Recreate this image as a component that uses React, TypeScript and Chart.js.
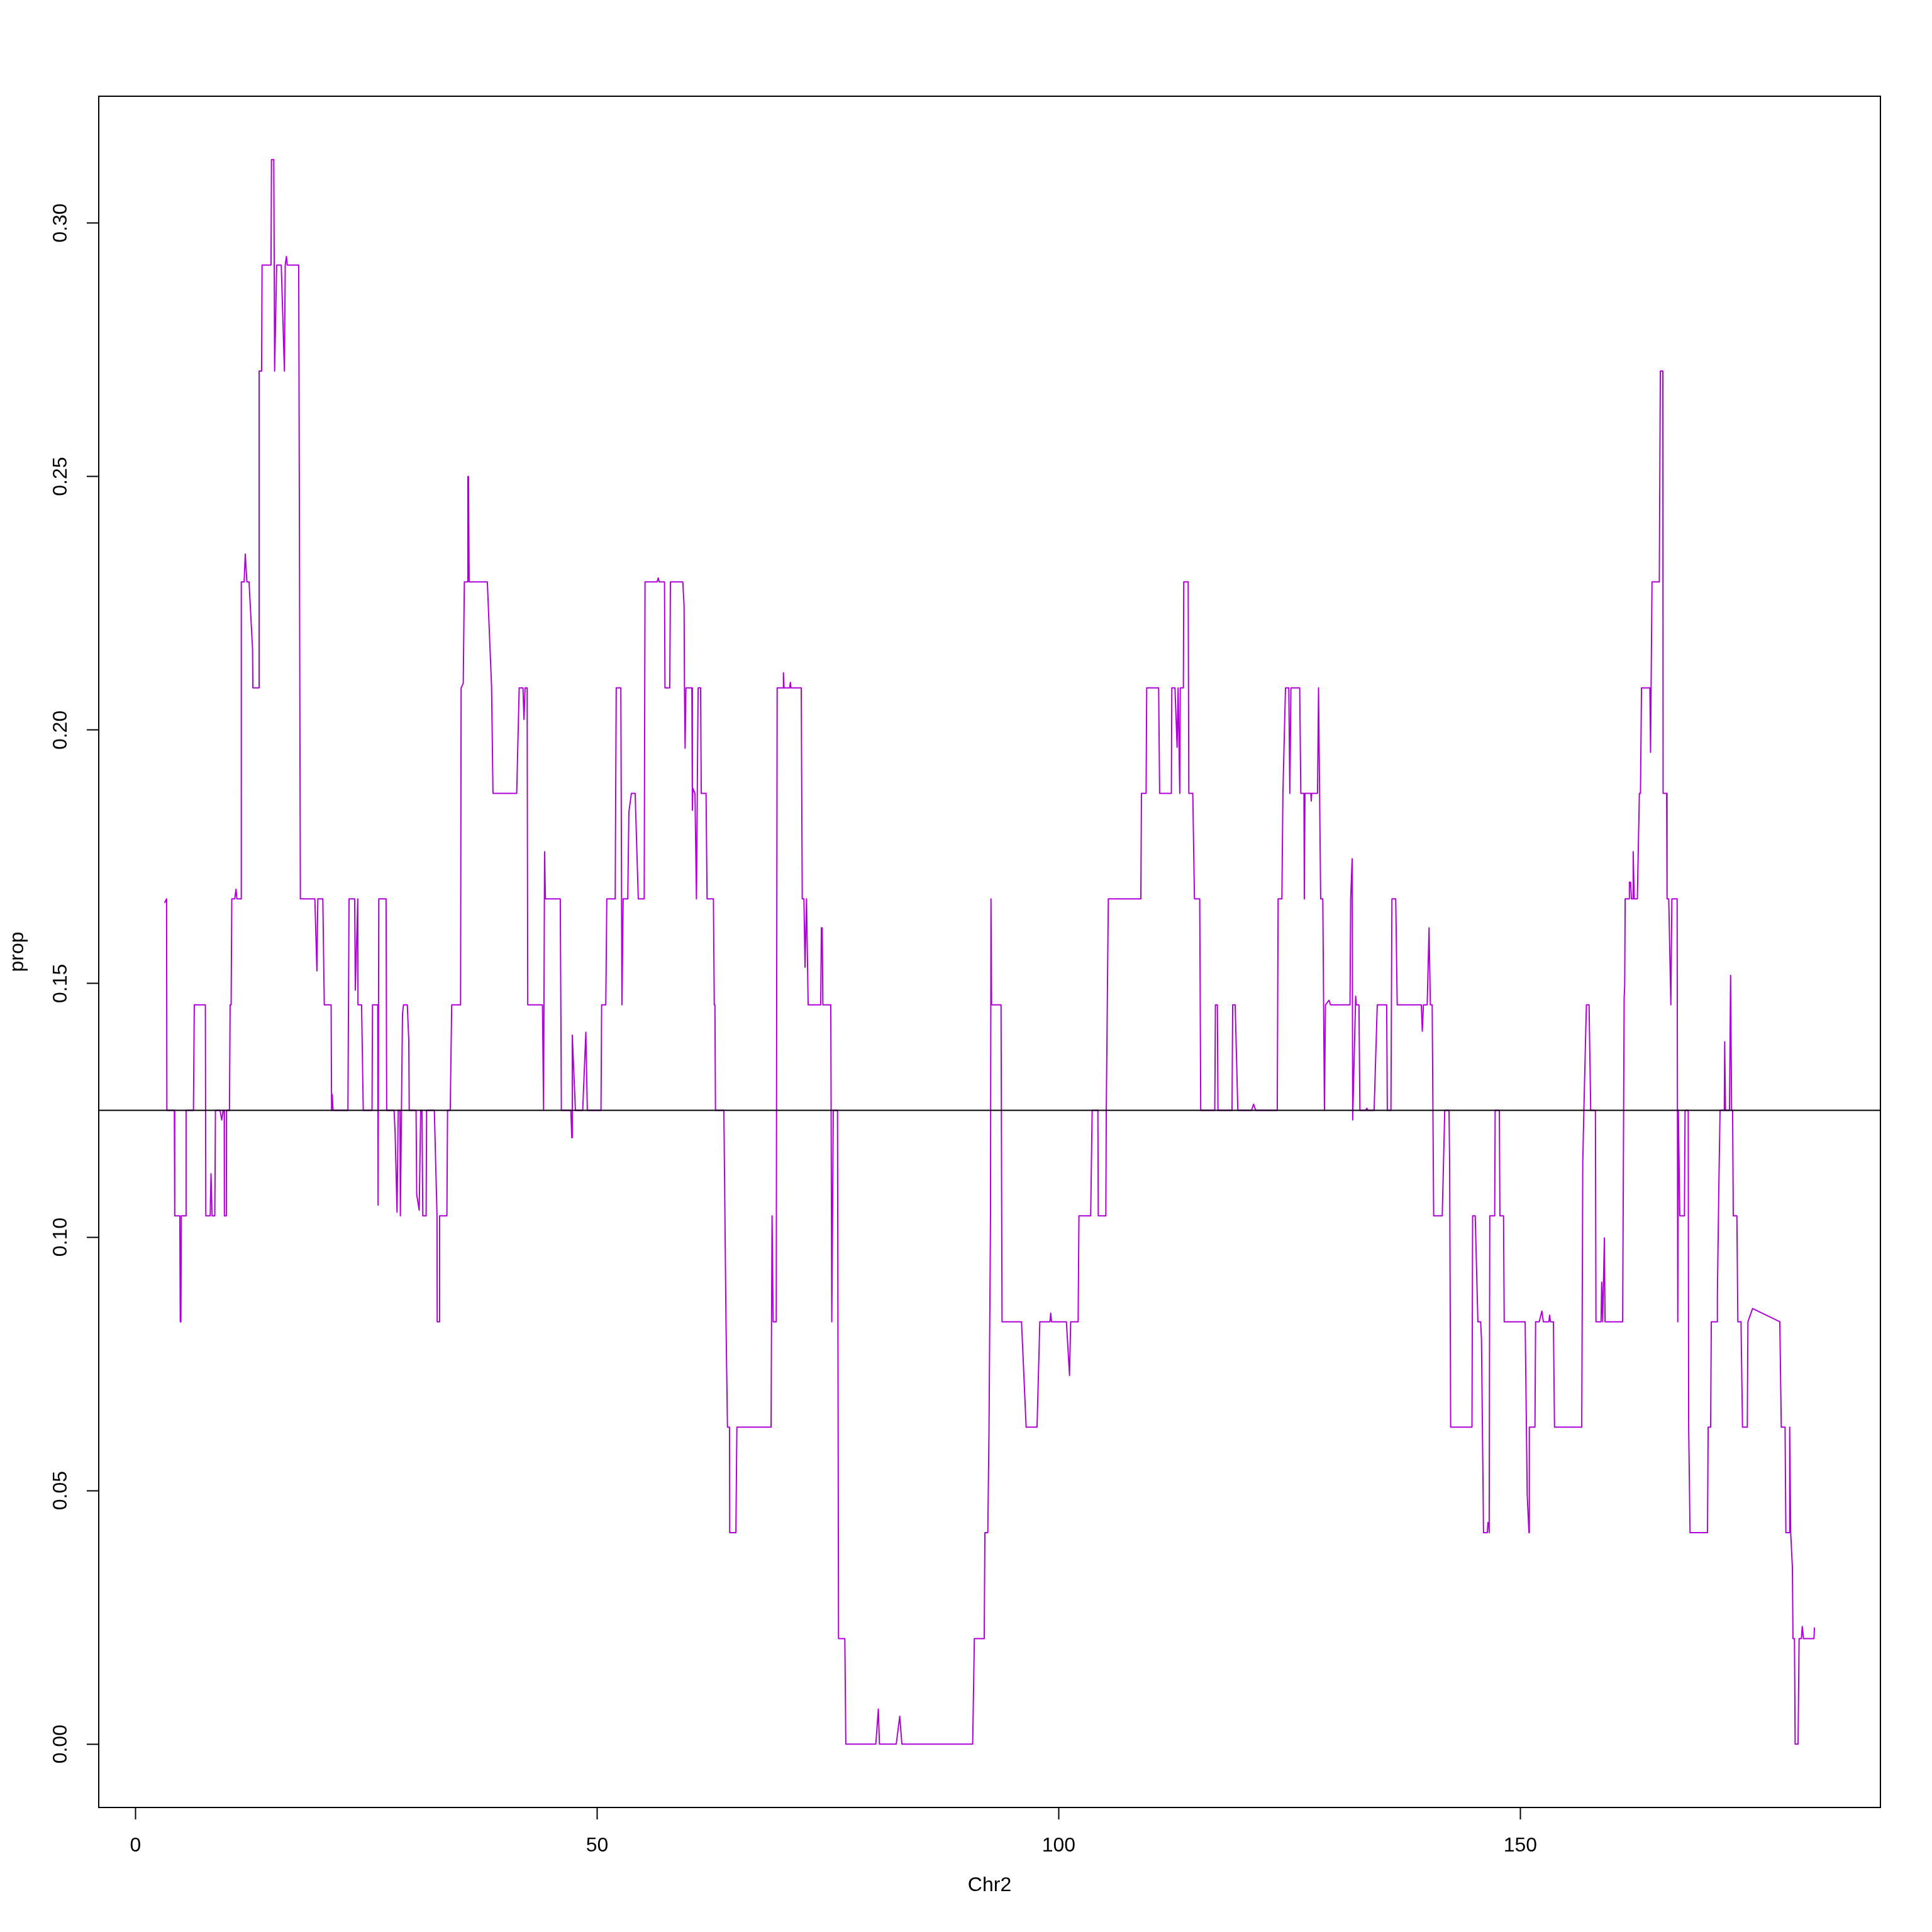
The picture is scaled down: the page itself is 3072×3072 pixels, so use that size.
import React, { useEffect, useRef } from "react";
import { Chart, registerables } from "chart.js";

Chart.register(...registerables);

// Position along chromosome 2 (x) and proportion (y)
const chrPos: number[] = [
  3.17, 3.37, 3.4, 4.21, 4.25, 4.8, 4.85, 4.92, 4.96, 5.44,
  5.48, 6.28, 6.37, 7.57, 7.62, 8.09, 8.18, 8.3, 8.59, 8.66,
  9.16, 9.34, 9.5, 9.61, 9.63, 9.84, 9.86, 10.18, 10.25, 10.36,
  10.43, 10.75, 10.89, 10.98, 11.43, 11.46, 11.77, 11.89, 12.07, 12.3,
  12.68, 12.71, 13.34, 13.39, 13.66, 13.71, 14.68, 14.73, 14.98, 15.07,
  15.29, 15.79, 16.13, 16.22, 16.35, 16.44, 17.68, 17.86, 19.43, 19.65,
  19.75, 20.29, 20.45, 21.19, 21.24, 21.31, 21.4, 23.01, 23.13, 23.74,
  23.81, 24.08, 24.1, 24.49, 24.67, 25.62, 25.67, 26.24, 26.28, 26.35,
  27.14, 27.21, 28.01, 28.12, 28.33, 28.46, 28.64, 28.69, 28.92, 29.03,
  29.44, 29.6, 29.65, 30.39, 30.46, 30.73, 30.89, 31.03, 31.12, 31.48,
  31.53, 32.37, 32.66, 32.68, 32.89, 32.94, 33.73, 33.8, 34.09, 34.25,
  35.21, 35.27, 35.5, 35.62, 35.96, 36.0, 36.07, 36.14, 38.11, 38.57,
  38.72, 41.29, 41.56, 41.97, 42.08, 42.2, 42.42, 42.49, 44.08, 44.2,
  44.31, 44.4, 46.01, 46.13, 47.15, 47.26, 47.31, 47.65, 48.44, 48.78,
  48.94, 50.42, 50.49, 50.94, 51.05, 51.96, 52.07, 52.57, 52.69, 52.82,
  53.32, 53.44, 53.71, 54.12, 54.46, 55.1, 55.19, 56.5, 56.62, 56.73,
  57.3, 57.35, 57.87, 57.94, 59.28, 59.42, 59.46, 59.53, 59.62, 60.26,
  60.32, 60.37, 60.6, 60.76, 60.94, 61.21, 61.28, 61.8, 61.91, 62.6,
  62.69, 62.76, 62.82, 63.73, 63.96, 64.12, 64.34, 64.36, 65.03, 65.14,
  68.84, 68.95, 69.07, 69.4, 69.5, 70.14, 70.18, 70.25, 70.86, 70.93,
  71.0, 72.11, 72.22, 72.4, 72.52, 72.68, 72.86, 74.22, 74.29, 74.38,
  74.45, 75.31, 75.42, 75.58, 76.04, 76.15, 76.83, 76.94, 80.19, 80.46,
  80.58, 82.4, 82.78, 83.01, 90.68, 90.86, 91.93, 92.0, 92.32, 92.45,
  92.61, 92.66, 92.73, 93.75, 93.86, 95.97, 96.47, 97.65, 97.95, 99.05,
  99.13, 99.22, 100.83, 101.17, 101.29, 102.1, 102.19, 103.46, 103.62, 104.24,
  104.28, 105.1, 105.15, 105.26, 105.37, 108.89, 108.96, 109.46, 109.53, 110.82,
  110.93, 112.2, 112.25, 112.59, 112.82, 112.93, 113.11, 113.16, 113.5, 113.54,
  114.02, 114.09, 114.52, 114.7, 115.27, 115.38, 116.9, 116.97, 117.18, 117.25,
  118.77, 118.84, 119.11, 119.4, 120.88, 121.1, 121.33, 123.67, 123.76, 124.17,
  124.28, 124.56, 124.92, 125.03, 125.15, 126.1, 126.22, 126.56, 126.6, 126.67,
  127.3, 127.35, 127.4, 128.03, 128.14, 128.37, 128.6, 128.78, 128.89, 129.28,
  129.43, 131.55, 131.62, 131.78, 131.84, 132.16, 132.23, 132.52, 132.62, 133.25,
  133.37, 133.48, 134.16, 134.5, 135.52, 135.59, 135.98, 136.09, 136.5, 136.66,
  139.27, 139.38, 139.5, 139.91, 140.11, 140.25, 140.45, 140.61, 141.54, 141.81,
  142.27, 142.34, 142.45, 144.76, 144.83, 145.11, 145.4, 145.7, 145.79, 146.01,
  146.42, 146.49, 146.58, 146.62, 146.69, 147.22, 147.27, 147.72, 147.79, 148.18,
  148.25, 150.52, 150.74, 150.93, 150.97, 151.58, 151.65, 152.04, 152.33, 152.49,
  153.09, 153.17, 153.26, 153.58, 153.7, 156.65, 156.76, 156.88, 157.15, 157.44,
  157.62, 158.13, 158.19, 158.74, 158.81, 158.92, 159.1, 159.17, 161.08, 161.24,
  161.3, 161.35, 161.76, 161.81, 161.94, 162.03, 162.17, 162.22, 162.33, 162.67,
  162.89, 163.01, 163.12, 164.03, 164.1, 164.26, 165.05, 165.16, 165.43, 165.46,
  165.84, 165.89, 166.07, 166.3, 166.41, 166.98, 167.05, 167.11, 167.27, 167.77,
  167.84, 168.18, 168.23, 168.38, 170.27, 170.34, 170.61, 170.68, 171.29, 171.34,
  171.5, 171.63, 172.09, 172.13, 172.22, 172.65, 172.77, 172.88, 172.99, 173.06,
  173.45, 173.56, 173.9, 174.06, 174.58, 174.65, 175.15, 178.1, 178.26, 178.67,
  178.76, 179.13, 179.17, 179.28, 179.46, 179.53, 179.69, 179.76, 180.08, 180.19,
  180.44, 180.53, 180.67, 181.8, 181.85,
];

const propValues: number[] = [
  0.166, 0.1667, 0.125, 0.125, 0.1042, 0.1042, 0.0833, 0.0833, 0.1042, 0.1042,
  0.125, 0.125, 0.1458, 0.1458, 0.1042, 0.1042, 0.1125, 0.1042, 0.1042, 0.125,
  0.125, 0.1231, 0.125, 0.125, 0.1042, 0.1042, 0.125, 0.125, 0.1458, 0.1458,
  0.1667, 0.1667, 0.1686, 0.1667, 0.1667, 0.2292, 0.2292, 0.2347, 0.2292, 0.2292,
  0.216, 0.2083, 0.2083, 0.2708, 0.2708, 0.2917, 0.2917, 0.3125, 0.3125, 0.2708,
  0.2917, 0.2917, 0.2708, 0.2917, 0.2934, 0.2917, 0.2917, 0.1667, 0.1667, 0.1525,
  0.1667, 0.1667, 0.1458, 0.1458, 0.125, 0.1281, 0.125, 0.125, 0.1667, 0.1667,
  0.1487, 0.1667, 0.1458, 0.1458, 0.125, 0.125, 0.1458, 0.1458, 0.1063, 0.1667,
  0.1667, 0.125, 0.125, 0.1206, 0.1049, 0.125, 0.125, 0.1042, 0.144, 0.1458,
  0.1458, 0.1389, 0.125, 0.125, 0.1084, 0.1053, 0.125, 0.125, 0.1042, 0.1042,
  0.125, 0.125, 0.1042, 0.0833, 0.0833, 0.1042, 0.1042, 0.125, 0.125, 0.1458,
  0.1458, 0.2083, 0.2092, 0.2292, 0.2292, 0.25, 0.25, 0.2292, 0.2292, 0.2085,
  0.1875, 0.1875, 0.2083, 0.2083, 0.2021, 0.2083, 0.2083, 0.1458, 0.1458, 0.125,
  0.176, 0.1667, 0.1667, 0.125, 0.125, 0.1196, 0.1398, 0.125, 0.125, 0.1404,
  0.125, 0.125, 0.1458, 0.1458, 0.1667, 0.1667, 0.2083, 0.2083, 0.1458, 0.1667,
  0.1667, 0.1838, 0.1875, 0.1875, 0.1667, 0.1667, 0.2292, 0.2292, 0.23, 0.2292,
  0.2292, 0.2083, 0.2083, 0.2292, 0.2292, 0.2245, 0.2083, 0.1964, 0.2083, 0.2083,
  0.1842, 0.1885, 0.1875, 0.1667, 0.2083, 0.2083, 0.1875, 0.1875, 0.1667, 0.1667,
  0.1458, 0.1458, 0.125, 0.125, 0.0833, 0.0625, 0.0625, 0.0417, 0.0417, 0.0625,
  0.0625, 0.1042, 0.0833, 0.0833, 0.2083, 0.2083, 0.2113, 0.2083, 0.2083, 0.2094,
  0.2083, 0.2083, 0.1667, 0.1667, 0.1532, 0.1667, 0.1458, 0.1458, 0.161, 0.161,
  0.1458, 0.1458, 0.0833, 0.125, 0.125, 0.0208, 0.0208, 0.0, 0.0, 0.0069,
  0.0, 0.0, 0.0055, 0.0, 0.0, 0.0208, 0.0208, 0.0417, 0.0417, 0.0625,
  0.1042, 0.1667, 0.1458, 0.1458, 0.0833, 0.0833, 0.0625, 0.0625, 0.0833, 0.0833,
  0.085, 0.0833, 0.0833, 0.0727, 0.0833, 0.0833, 0.1042, 0.1042, 0.125, 0.125,
  0.1042, 0.1042, 0.125, 0.1458, 0.1667, 0.1667, 0.1875, 0.1875, 0.2083, 0.2083,
  0.1875, 0.1875, 0.2083, 0.2083, 0.1966, 0.2083, 0.1875, 0.2083, 0.2083, 0.2292,
  0.2292, 0.1875, 0.1875, 0.1667, 0.1667, 0.125, 0.125, 0.1458, 0.1458, 0.125,
  0.125, 0.1458, 0.1458, 0.125, 0.125, 0.1262, 0.125, 0.125, 0.1667, 0.1667,
  0.1875, 0.2083, 0.2083, 0.1875, 0.2083, 0.2083, 0.1875, 0.1875, 0.1667, 0.1875,
  0.1875, 0.186, 0.1875, 0.1875, 0.2083, 0.1667, 0.1667, 0.125, 0.1458, 0.1467,
  0.1458, 0.1458, 0.1667, 0.1746, 0.1231, 0.1475, 0.1458, 0.1458, 0.125, 0.125,
  0.1254, 0.125, 0.125, 0.1458, 0.1458, 0.125, 0.125, 0.1667, 0.1667, 0.1458,
  0.1458, 0.1406, 0.1458, 0.1458, 0.161, 0.1458, 0.1458, 0.1042, 0.1042, 0.125,
  0.125, 0.1149, 0.0625, 0.0625, 0.1042, 0.1042, 0.0833, 0.0833, 0.0798, 0.0417,
  0.0417, 0.0437, 0.0437, 0.0417, 0.1042, 0.1042, 0.125, 0.125, 0.1042, 0.1042,
  0.0833, 0.0833, 0.0493, 0.0417, 0.0625, 0.0625, 0.0833, 0.0833, 0.0854, 0.0833,
  0.0833, 0.0846, 0.0833, 0.0833, 0.0625, 0.0625, 0.1149, 0.125, 0.1458, 0.1458,
  0.125, 0.125, 0.0833, 0.0833, 0.0911, 0.0833, 0.0998, 0.0833, 0.0833, 0.1471,
  0.1495, 0.1667, 0.1667, 0.17, 0.17, 0.1667, 0.1667, 0.176, 0.1667, 0.1667,
  0.1875, 0.1875, 0.2083, 0.2083, 0.1956, 0.2292, 0.2292, 0.2708, 0.2708, 0.1875,
  0.1875, 0.1667, 0.1667, 0.1458, 0.1667, 0.1667, 0.0833, 0.125, 0.1042, 0.1042,
  0.125, 0.125, 0.0625, 0.0417, 0.0417, 0.0625, 0.0625, 0.0833, 0.0833, 0.0884,
  0.1104, 0.125, 0.125, 0.1385, 0.125, 0.125, 0.1516, 0.125, 0.125, 0.1042,
  0.1042, 0.0833, 0.0833, 0.0625, 0.0625, 0.0833, 0.0859, 0.0833, 0.0625, 0.0625,
  0.0417, 0.0417, 0.0625, 0.0417, 0.035, 0.0208, 0.0208, 0.0, 0.0, 0.0208,
  0.0208, 0.0232, 0.0208, 0.0208, 0.0229,
];

const xTicks: number[] = [0, 50, 100, 150];
const yTicks: number[] = [0, 0.05, 0.1, 0.15, 0.2, 0.25, 0.3];
const xLabel = "Chr2";
const yLabel = "prop";
const refLevel = 0.125;
const xRange: number[] = [-3.98, 189.0];
const yRange: number[] = [-0.0125, 0.325];

const LINE_COLOR = "#B000D8";
const FONT = "32px 'Liberation Sans', Arial, Helvetica, sans-serif";

const framePlugin = {
  id: "rFrameText",
  afterDraw(chart: any) {
    const { ctx, chartArea: a, scales } = chart;
    ctx.save();
    ctx.strokeStyle = "#000";
    ctx.lineWidth = 2;
    ctx.strokeRect(a.left, a.top, a.right - a.left, a.bottom - a.top);
    ctx.fillStyle = "#000";
    ctx.font = FONT;
    ctx.textAlign = "center";
    ctx.textBaseline = "middle";
    scales.x.ticks.forEach((t: any) => {
      ctx.fillText(String(t.value), scales.x.getPixelForValue(t.value), a.bottom + 61);
    });
    ctx.fillText(xLabel, (a.left + a.right) / 2, a.bottom + 124);
    scales.y.ticks.forEach((t: any) => {
      const py = scales.y.getPixelForValue(t.value);
      ctx.save();
      ctx.translate(a.left - 60, py);
      ctx.rotate(-Math.PI / 2);
      ctx.fillText(Number(t.value).toFixed(2), 0, 0);
      ctx.restore();
    });
    ctx.save();
    ctx.translate(a.left - 129, (a.top + a.bottom) / 2);
    ctx.rotate(-Math.PI / 2);
    ctx.fillText(yLabel, 0, 0);
    ctx.restore();
    ctx.restore();
  },
};

export default function App() {
  const canvasRef = useRef<HTMLCanvasElement | null>(null);

  useEffect(() => {
    document.body.style.margin = "0";
    const canvas = canvasRef.current;
    if (!canvas) return;
    const points = chrPos.map((x, i) => ({ x, y: propValues[i] }));
    const refPoints = xRange.map((x) => ({ x, y: refLevel }));
    const tickGrid = {
      display: true,
      drawOnChartArea: false,
      drawTicks: true,
      tickLength: 19,
      tickWidth: 2,
      tickColor: "#000",
      color: "#000",
    };
    const chart = new Chart(canvas, {
      type: "scatter",
      data: {
        datasets: [
          {
            label: "ref",
            data: refPoints,
            showLine: true,
            borderColor: "#000",
            borderWidth: 2,
            pointRadius: 0,
          },
          {
            label: "prop",
            data: points,
            showLine: true,
            borderColor: LINE_COLOR,
            borderWidth: 2,
            pointRadius: 0,
            tension: 0,
            borderJoinStyle: "round",
            borderCapStyle: "round",
          },
        ],
      },
      options: {
        animation: false,
        responsive: false,
        devicePixelRatio: 1,
        events: [],
        layout: { padding: { left: 0, top: 153, right: 82, bottom: 0 } },
        plugins: {
          legend: { display: false },
          tooltip: { enabled: false },
          title: { display: false },
        },
        scales: {
          x: {
            type: "linear",
            position: "bottom",
            min: xRange[0],
            max: xRange[1],
            afterBuildTicks: (scale: any) => {
              scale.ticks = xTicks.map((v) => ({ value: v }));
            },
            afterFit: (scale: any) => {
              scale.height = 198;
            },
            ticks: { display: false },
            grid: tickGrid,
            border: { display: false },
          },
          y: {
            type: "linear",
            position: "left",
            min: yRange[0],
            max: yRange[1],
            afterBuildTicks: (scale: any) => {
              scale.ticks = yTicks.map((v) => ({ value: v }));
            },
            afterFit: (scale: any) => {
              scale.width = 157;
            },
            ticks: { display: false },
            grid: tickGrid,
            border: { display: false },
          },
        },
      } as any,
      plugins: [framePlugin],
    });
    return () => chart.destroy();
  }, []);

  return (
    <div style={{ width: 3072, height: 3072, background: "#fff" }}>
      <canvas ref={canvasRef} width={3072} height={3072} style={{ display: "block" }} />
    </div>
  );
}
